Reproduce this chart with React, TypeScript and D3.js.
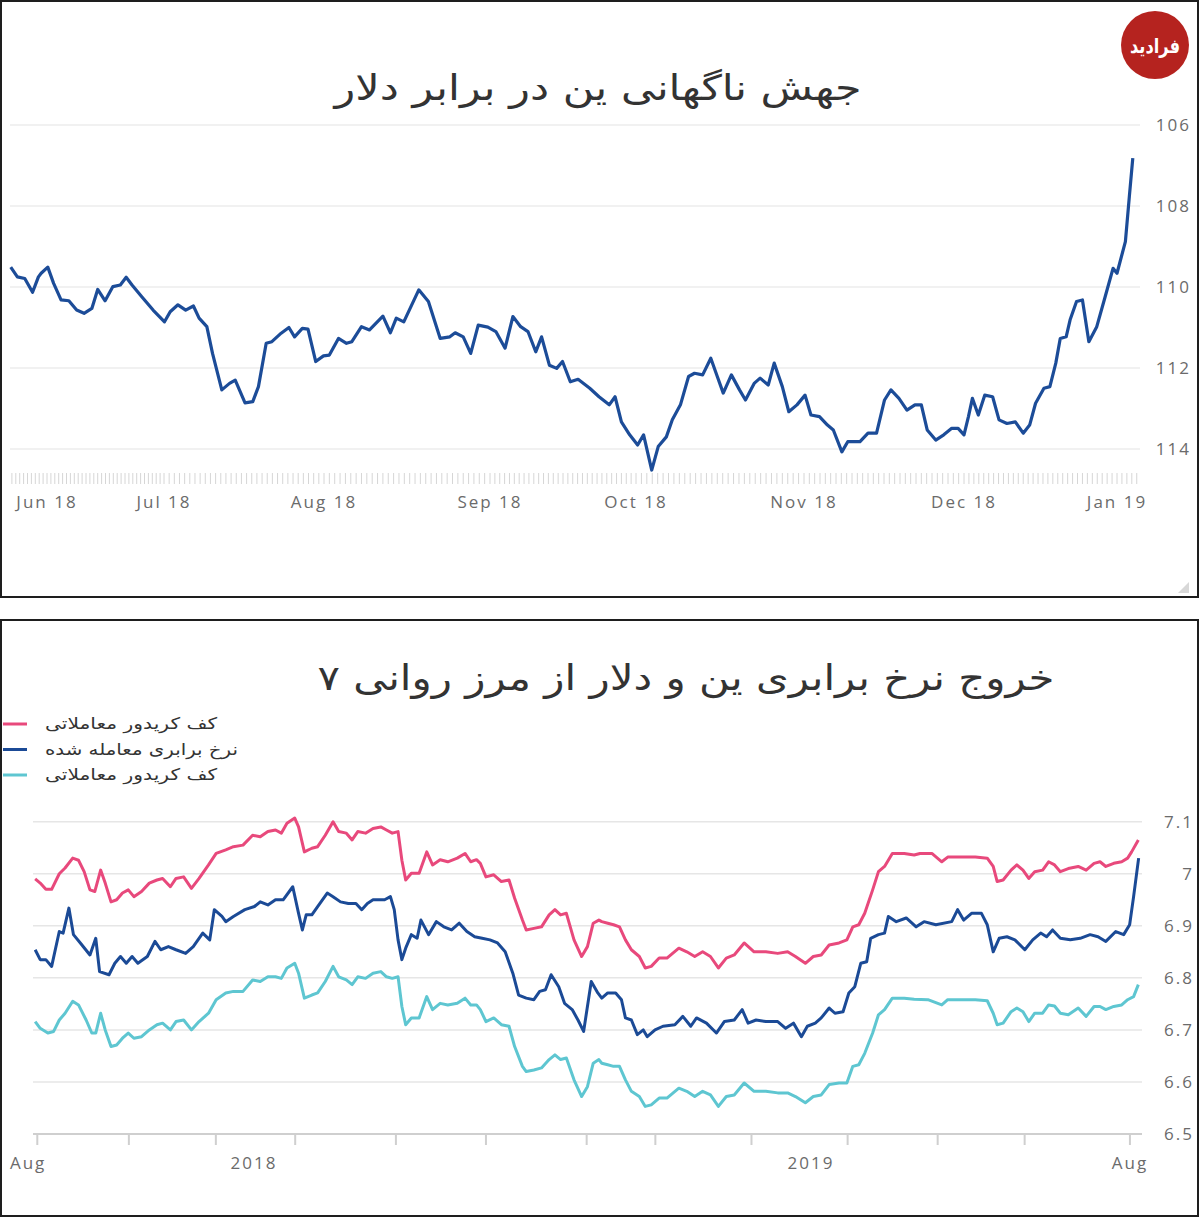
import React from "react";
import * as d3 from "d3";

const parseDay = d3.timeParse("%Y-%m-%d");
const dayMs = 86400000;
const at = (start: Date, d: number) => new Date(start.getTime() + d * dayMs);

// ---- top chart: USD/JPY, days counted from 1 Jun 2018 ----
const topStart = parseDay("2018-06-01") as Date;
const topTitle = "جهش ناگهانی ین در برابر دلار";
const topMonthDates = ["2018-06-01", "2018-07-01", "2018-08-01", "2018-09-01", "2018-10-01", "2018-11-01", "2018-12-01", "2019-01-01"];
const topMonthLabels = ["Jun 18", "Jul 18", "Aug 18", "Sep 18", "Oct 18", "Nov 18", "Dec 18", "Jan 19"];
const topYTicks = [106, 108, 110, 112, 114];

const yenRate: [number, number][] = [
  [-9.3, 109.51], [-7.6, 109.75], [-5.7, 109.79], [-3.7, 110.13], [-2.2, 109.75], [-1.5, 109.66], [0.2, 109.51],
  [1.7, 109.91], [3.6, 110.32], [5.6, 110.34], [7.6, 110.57], [9.5, 110.65], [11.5, 110.53], [13.0, 110.06],
  [14.9, 110.34], [16.9, 109.99], [18.8, 109.95], [20.3, 109.76], [21.8, 109.95], [24.3, 110.24], [27.2, 110.57],
  [30.1, 110.86], [31.2, 110.61], [32.7, 110.44], [34.2, 110.57], [35.7, 110.47], [36.8, 110.77], [38.3, 110.98],
  [39.4, 111.64], [41.2, 112.54], [42.7, 112.38], [43.8, 112.3], [45.7, 112.86], [47.2, 112.83], [48.3, 112.46],
  [49.8, 111.39], [50.9, 111.35], [52.7, 111.14], [54.2, 111.0], [55.3, 111.23], [56.8, 111.02], [57.9, 111.04],
  [59.4, 111.84], [60.9, 111.7], [62.0, 111.68], [63.7, 111.27], [65.2, 111.39], [66.2, 111.35], [68.0, 110.98],
  [69.5, 111.06], [72.0, 110.72], [73.4, 111.13], [74.5, 110.77], [75.9, 110.86], [78.7, 110.07], [80.5, 110.36],
  [82.7, 111.27], [84.5, 111.23], [85.5, 111.13], [87.0, 111.23], [88.4, 111.64], [89.8, 110.94], [91.6, 110.99],
  [93.2, 111.1], [95.1, 111.51], [96.7, 110.73], [98.3, 110.98], [99.8, 111.1], [101.4, 111.6], [102.6, 111.23],
  [104.2, 111.93], [105.7, 112.01], [106.9, 111.84], [108.5, 112.34], [110.1, 112.28], [112.5, 112.5], [114.4, 112.71],
  [116.5, 112.91], [117.7, 112.71], [119.0, 113.33], [120.7, 113.65], [122.3, 113.9], [123.4, 113.65], [124.9, 114.52],
  [126.1, 113.94], [127.6, 113.7], [128.7, 113.28], [130.2, 112.91], [131.7, 112.21], [132.8, 112.13], [134.3, 112.17],
  [135.8, 111.76], [137.0, 112.21], [138.1, 112.62], [139.6, 112.17], [141.1, 112.54], [142.2, 112.79], [143.8, 112.38],
  [144.9, 112.25], [146.4, 112.42], [147.5, 111.88], [149.0, 112.46], [150.2, 113.08], [151.7, 112.91], [153.2, 112.67],
  [154.3, 113.16], [155.9, 113.2], [157.4, 113.41], [158.5, 113.53], [160.1, 114.07], [161.2, 113.82], [163.5, 113.82],
  [165.0, 113.61], [166.6, 113.61], [168.1, 112.79], [169.3, 112.54], [170.8, 112.75], [172.3, 113.04], [173.8, 112.91],
  [175.0, 112.91], [176.1, 113.53], [177.7, 113.78], [179.2, 113.65], [180.7, 113.49], [181.9, 113.49], [183.0, 113.65],
  [183.9, 113.2], [184.7, 112.75], [185.9, 113.16], [187.2, 112.67], [188.8, 112.71], [190.1, 113.28], [191.7, 113.37],
  [193.4, 113.33], [195.0, 113.61], [196.3, 113.41], [197.5, 112.87], [199.2, 112.5], [200.4, 112.46], [201.6, 111.88],
  [202.5, 111.27], [203.7, 111.23], [204.5, 110.81], [205.8, 110.36], [207.0, 110.32], [208.3, 111.35], [209.9, 110.98],
  [211.6, 110.24], [213.2, 109.54], [214.0, 109.66], [215.7, 108.88], [216.5, 107.77], [217.2, 106.82],
];

// ---- bottom chart: USD/CNY, days counted from 1 Jan 2018 ----
const botStart = parseDay("2018-01-01") as Date;
const botTitle = "خروج نرخ برابری ین و دلار از مرز روانی ۷";
const botYTicks = [6.5, 6.6, 6.7, 6.8, 6.9, 7, 7.1];
const botTickDates = ["2017-08-12", "2017-10-11", "2017-12-07", "2018-01-28", "2018-04-04", "2018-06-02", "2018-08-07", "2018-09-21", "2018-11-23", "2019-01-25", "2019-03-25", "2019-05-21", "2019-07-29"];
const botLabelDates = ["2017-08-06", "2018-01-01", "2019-01-01", "2019-07-29"];
const botLabelText = ["Aug", "2018", "2019", "Aug"];
const legendLabels = ["کف کریدور معاملاتی", "نرخ برابری معامله شده", "کف کریدور معاملاتی"];
const legendColors = ["#e8497c", "#1b4a96", "#5ec6d1"];

const upperBand: [number, number][] = [
  [-143.4, 6.99], [-140.1, 6.982], [-136.4, 6.97], [-132.6, 6.97], [-127.6, 7.0], [-123.8, 7.011], [-118.8, 7.03],
  [-115.0, 7.026], [-111.3, 7.004], [-107.5, 6.969], [-104.3, 6.966], [-100.5, 7.007], [-97.5, 6.982], [-93.7, 6.946],
  [-90.0, 6.95], [-86.2, 6.963], [-82.4, 6.969], [-78.7, 6.956], [-73.7, 6.966], [-68.6, 6.982], [-63.6, 6.988],
  [-59.9, 6.991], [-54.8, 6.975], [-51.1, 6.991], [-46.1, 6.994], [-41.0, 6.972], [-36.0, 6.991], [-29.8, 7.017],
  [-24.8, 7.039], [-18.5, 7.046], [-13.5, 7.052], [-7.2, 7.055], [-0.9, 7.074], [4.1, 7.071], [9.1, 7.081],
  [14.1, 7.084], [17.9, 7.078], [21.6, 7.097], [26.7, 7.107], [29.2, 7.09], [33.0, 7.042], [37.9, 7.049],
  [41.7, 7.052], [46.7, 7.074], [51.8, 7.1], [55.5, 7.081], [60.5, 7.078], [64.3, 7.065], [68.0, 7.081],
  [73.1, 7.078], [78.0, 7.087], [83.1, 7.09], [86.8, 7.084], [90.6, 7.078], [94.4, 7.081], [96.9, 7.026],
  [99.4, 6.988], [103.1, 7.001], [108.2, 7.001], [113.2, 7.042], [117.0, 7.017], [122.0, 7.027], [127.0, 7.023],
  [133.2, 7.03], [138.3, 7.039], [142.0, 7.023], [145.8, 7.027], [148.3, 7.02], [152.0, 6.994], [157.1, 6.998],
  [162.1, 6.985], [167.1, 6.988], [170.8, 6.953], [175.9, 6.911], [178.4, 6.892], [183.4, 6.895], [188.4, 6.898],
  [193.4, 6.921], [197.2, 6.931], [200.9, 6.921], [204.7, 6.924], [209.7, 6.873], [214.7, 6.841], [218.5, 6.86],
  [222.3, 6.905], [226.0, 6.911], [227.9, 6.908], [231.8, 6.905], [235.6, 6.902], [239.5, 6.898], [243.4, 6.873],
  [247.3, 6.854], [252.5, 6.841], [256.4, 6.819], [260.3, 6.822], [265.5, 6.838], [270.6, 6.838], [278.4, 6.857],
  [283.6, 6.85], [288.8, 6.841], [294.0, 6.85], [299.1, 6.841], [304.3, 6.819], [309.5, 6.838], [314.7, 6.844],
  [321.2, 6.867], [327.7, 6.85], [335.4, 6.85], [343.2, 6.847], [349.7, 6.85], [354.8, 6.841], [361.3, 6.828],
  [366.5, 6.841], [371.7, 6.844], [376.9, 6.863], [383.4, 6.867], [388.5, 6.873], [392.4, 6.898], [396.3, 6.902],
  [400.2, 6.924], [405.4, 6.969], [409.2, 7.004], [413.2, 7.014], [418.3, 7.039], [426.1, 7.039], [432.6, 7.036],
  [436.4, 7.039], [444.2, 7.039], [450.7, 7.023], [454.6, 7.032], [462.4, 7.032], [472.7, 7.032], [480.5, 7.03],
  [484.4, 7.014], [487.0, 6.985], [490.9, 6.988], [496.1, 7.007], [499.9, 7.017], [503.9, 7.007], [507.7, 6.991],
  [511.6, 7.004], [516.8, 7.007], [520.7, 7.023], [524.6, 7.017], [528.4, 7.004], [533.6, 7.01], [540.1, 7.014],
  [545.3, 7.007], [550.5, 7.02], [554.4, 7.023], [558.2, 7.014], [563.4, 7.02], [568.6, 7.023], [572.5, 7.03],
  [575.1, 7.042], [579.5, 7.065],
];

const tradedRate: [number, number][] = [
  [-143.4, 6.854], [-140.1, 6.835], [-136.4, 6.835], [-132.6, 6.822], [-127.6, 6.889], [-125.1, 6.886], [-121.3, 6.934],
  [-118.3, 6.883], [-113.8, 6.867], [-107.5, 6.844], [-103.7, 6.876], [-101.2, 6.812], [-95.0, 6.806], [-91.2, 6.828],
  [-87.5, 6.841], [-83.7, 6.828], [-79.9, 6.841], [-76.1, 6.828], [-69.9, 6.841], [-64.9, 6.87], [-61.1, 6.854],
  [-56.1, 6.86], [-51.1, 6.854], [-44.8, 6.847], [-39.8, 6.86], [-33.6, 6.886], [-29.0, 6.873], [-26.0, 6.931],
  [-21.0, 6.918], [-18.5, 6.908], [-13.5, 6.918], [-6.0, 6.931], [0.3, 6.937], [4.1, 6.946], [9.1, 6.94],
  [14.1, 6.95], [19.1, 6.95], [25.4, 6.975], [29.2, 6.924], [31.7, 6.892], [34.2, 6.921], [37.9, 6.921],
  [41.7, 6.937], [48.0, 6.963], [51.8, 6.956], [56.7, 6.946], [61.8, 6.943], [66.8, 6.943], [70.6, 6.931],
  [74.3, 6.943], [78.0, 6.95], [81.8, 6.95], [85.6, 6.95], [89.4, 6.956], [91.9, 6.931], [94.4, 6.873],
  [96.9, 6.835], [99.4, 6.857], [103.1, 6.883], [106.9, 6.876], [109.4, 6.911], [114.4, 6.883], [119.5, 6.908],
  [124.4, 6.898], [129.5, 6.892], [134.5, 6.905], [139.5, 6.889], [144.6, 6.879], [149.5, 6.876], [154.6, 6.873],
  [159.6, 6.867], [164.6, 6.85], [169.6, 6.809], [173.4, 6.767], [178.4, 6.761], [183.4, 6.758], [187.2, 6.774],
  [191.0, 6.777], [194.7, 6.806], [199.7, 6.783], [203.5, 6.751], [208.5, 6.739], [212.3, 6.719], [216.0, 6.697],
  [221.0, 6.793], [225.3, 6.771], [227.9, 6.761], [231.8, 6.771], [237.0, 6.771], [240.8, 6.758], [243.4, 6.723],
  [247.3, 6.719], [251.2, 6.691], [255.1, 6.7], [257.7, 6.687], [262.8, 6.7], [268.0, 6.707], [275.8, 6.71],
  [281.0, 6.726], [286.2, 6.707], [290.0, 6.723], [296.5, 6.713], [303.0, 6.694], [308.2, 6.716], [314.7, 6.719],
  [319.9, 6.739], [323.8, 6.713], [329.0, 6.719], [335.4, 6.716], [343.2, 6.716], [348.4, 6.703], [353.5, 6.713],
  [358.7, 6.687], [362.6, 6.707], [367.8, 6.713], [371.7, 6.723], [376.9, 6.742], [380.7, 6.732], [386.0, 6.735],
  [389.8, 6.771], [393.7, 6.783], [397.6, 6.828], [401.5, 6.831], [404.1, 6.876], [409.2, 6.883], [413.2, 6.886],
  [415.7, 6.918], [420.9, 6.908], [427.4, 6.915], [433.9, 6.898], [439.1, 6.908], [446.8, 6.902], [457.2, 6.908],
  [461.1, 6.931], [465.0, 6.911], [470.2, 6.924], [476.7, 6.924], [480.5, 6.902], [484.4, 6.85], [488.3, 6.876],
  [493.4, 6.879], [498.6, 6.873], [505.1, 6.854], [510.3, 6.873], [515.5, 6.886], [519.4, 6.879], [523.3, 6.892],
  [528.4, 6.876], [534.9, 6.873], [541.4, 6.876], [547.9, 6.883], [553.1, 6.879], [558.2, 6.87], [564.7, 6.889],
  [569.9, 6.883], [573.8, 6.902], [576.4, 6.956], [579.7, 7.03],
];

const lowerBand: [number, number][] = [
  [-143.4, 6.716], [-140.1, 6.703], [-135.1, 6.694], [-131.3, 6.697], [-127.6, 6.719], [-123.8, 6.732], [-118.8, 6.755],
  [-115.0, 6.748], [-110.0, 6.719], [-106.3, 6.694], [-103.7, 6.694], [-100.5, 6.732], [-97.5, 6.7], [-93.7, 6.668],
  [-90.0, 6.671], [-86.2, 6.684], [-82.4, 6.694], [-78.7, 6.684], [-73.7, 6.687], [-68.6, 6.7], [-63.6, 6.71],
  [-59.9, 6.713], [-54.8, 6.7], [-51.1, 6.716], [-46.1, 6.719], [-41.0, 6.7], [-36.0, 6.716], [-29.8, 6.732],
  [-24.8, 6.758], [-18.5, 6.771], [-13.5, 6.774], [-7.2, 6.774], [-0.9, 6.796], [4.1, 6.793], [9.1, 6.802],
  [14.1, 6.802], [17.9, 6.799], [21.6, 6.819], [26.7, 6.828], [29.2, 6.809], [33.0, 6.761], [37.9, 6.767],
  [41.7, 6.771], [46.7, 6.793], [51.8, 6.822], [55.5, 6.802], [60.5, 6.796], [64.3, 6.787], [68.0, 6.802],
  [73.1, 6.799], [78.0, 6.809], [83.1, 6.812], [86.8, 6.802], [90.6, 6.799], [94.4, 6.802], [96.9, 6.745],
  [99.4, 6.71], [103.1, 6.723], [108.2, 6.723], [113.2, 6.764], [117.0, 6.739], [122.0, 6.751], [127.0, 6.748],
  [133.2, 6.751], [138.3, 6.761], [142.0, 6.748], [145.8, 6.748], [148.3, 6.739], [152.0, 6.716], [157.1, 6.723],
  [162.1, 6.71], [167.1, 6.707], [170.8, 6.668], [175.9, 6.63], [178.4, 6.62], [183.4, 6.623], [188.4, 6.627],
  [193.4, 6.643], [197.2, 6.652], [200.9, 6.643], [204.7, 6.646], [209.7, 6.604], [214.7, 6.572], [218.5, 6.591],
  [222.3, 6.636], [226.0, 6.643], [227.9, 6.636], [231.8, 6.633], [235.6, 6.63], [239.5, 6.63], [243.4, 6.604],
  [247.3, 6.582], [252.5, 6.572], [256.4, 6.553], [260.3, 6.556], [265.5, 6.569], [270.6, 6.569], [278.4, 6.588],
  [283.6, 6.582], [288.8, 6.572], [294.0, 6.582], [299.1, 6.575], [304.3, 6.553], [309.5, 6.572], [314.7, 6.575],
  [321.2, 6.598], [327.7, 6.582], [335.4, 6.582], [343.2, 6.579], [349.7, 6.579], [354.8, 6.572], [361.3, 6.56],
  [366.5, 6.572], [371.7, 6.575], [376.9, 6.595], [383.4, 6.598], [388.5, 6.598], [392.4, 6.63], [396.3, 6.633],
  [400.2, 6.655], [405.4, 6.694], [409.2, 6.729], [413.2, 6.739], [418.3, 6.761], [426.1, 6.761], [432.6, 6.759],
  [441.6, 6.758], [450.7, 6.748], [454.6, 6.758], [472.7, 6.758], [480.5, 6.756], [484.4, 6.732], [487.0, 6.71],
  [490.9, 6.713], [496.1, 6.735], [499.9, 6.742], [503.9, 6.735], [507.7, 6.716], [511.6, 6.732], [516.8, 6.732],
  [520.7, 6.748], [524.6, 6.746], [528.4, 6.732], [533.6, 6.729], [540.1, 6.742], [545.3, 6.726], [550.5, 6.745],
  [554.4, 6.745], [558.2, 6.739], [563.4, 6.745], [568.6, 6.748], [572.5, 6.758], [576.4, 6.764], [579.5, 6.787],
];

const faFont = "'DejaVu Sans', 'Noto Sans', sans-serif";
const numFont = "'Open Sans', 'DejaVu Sans', sans-serif";

export default function App() {
  // top scales
  const xTop = d3
    .scaleTime()
    .domain(topMonthDates.map((s) => parseDay(s) as Date))
    .range([47, 164, 324, 490, 636, 804, 964, 1117]);
  const yTop = d3.scaleLinear().domain([106, 114]).range([125, 449]);
  const topLine = d3
    .line<[number, number]>()
    .x((p) => xTop(at(topStart, p[0])))
    .y((p) => yTop(p[1]));
  const dailyTicks = d3.timeDay.range(at(topStart, -9), at(topStart, 219));

  // bottom scales
  const xBot = d3.scaleTime().domain([botStart, parseDay("2019-01-01") as Date]).range([254, 811]);
  const yBot = d3.scaleLinear().domain([6.5, 7.1]).range([1134, 821.7]);
  const botLine = d3
    .line<[number, number]>()
    .x((p) => xBot(at(botStart, p[0])))
    .y((p) => yBot(p[1]));
  const botSeries = [upperBand, tradedRate, lowerBand];
  const legendWidths = [172, 193, 172];

  return (
    <svg
      width={1200}
      height={1218}
      style={{ position: "absolute", left: 0, top: 0, background: "#fff" }}
    >
      {/* panels */}
      <rect x={1} y={1} width={1197} height={596} fill="#fff" stroke="#1e1e1e" strokeWidth={2} />
      <rect x={1} y={620} width={1197} height={596} fill="#fff" stroke="#1e1e1e" strokeWidth={2} />
      <path d="M1189,582 L1189,593 L1178,593 Z" fill="#d8d8d8" />

      {/* logo */}
      <circle cx={1155} cy={45} r={34} fill="#b5231f" />
      <text
        x={1155}
        y={53}
        textAnchor="middle"
        fontFamily={faFont}
        fontWeight="bold"
        fontSize={20}
        fill="#fff"
        textLength={50}
        lengthAdjust="spacingAndGlyphs"
      >
        فرادید
      </text>

      {/* ===== top chart ===== */}
      <text
        x={598}
        y={100}
        textAnchor="middle"
        fontFamily={faFont}
        fontSize={35}
        fill="#333"
        textLength={527}
        lengthAdjust="spacingAndGlyphs"
      >
        {topTitle}
      </text>
      {topYTicks.map((t) => (
        <g key={t}>
          <line x1={10} x2={1140} y1={yTop(t)} y2={yTop(t)} stroke="#ececec" strokeWidth={1.5} />
          <text
            x={1191}
            y={yTop(t) + 6}
            textAnchor="end"
            fontFamily={numFont}
            fontSize={17}
            letterSpacing={2}
            fill="#6b6b6b"
          >
            {t}
          </text>
        </g>
      ))}
      {dailyTicks.map((d, i) => (
        <line key={i} x1={xTop(d)} x2={xTop(d)} y1={473} y2={484} stroke="#d6d6d6" strokeWidth={1} />
      ))}
      {topMonthDates.map((s, i) => (
        <text
          key={s}
          x={xTop(parseDay(s) as Date)}
          y={508}
          textAnchor="middle"
          fontFamily={numFont}
          fontSize={17}
          letterSpacing={2}
          fill="#6b6b6b"
        >
          {topMonthLabels[i]}
        </text>
      ))}
      <path d={topLine(yenRate) || ""} fill="none" stroke="#1c4c98" strokeWidth={3.2} strokeLinejoin="round" />

      {/* ===== bottom chart ===== */}
      <text
        x={686}
        y={690}
        textAnchor="middle"
        fontFamily={faFont}
        fontSize={35}
        fill="#333"
        textLength={737}
        lengthAdjust="spacingAndGlyphs"
      >
        {botTitle}
      </text>
      {legendLabels.map((l, i) => (
        <g key={i}>
          <line x1={3} x2={27} y1={724 + i * 25.5} y2={724 + i * 25.5} stroke={legendColors[i]} strokeWidth={3} />
          <text
            x={45}
            y={729 + i * 25.5}
            fontFamily={faFont}
            fontSize={16}
            fill="#333"
            textLength={legendWidths[i]}
            lengthAdjust="spacingAndGlyphs"
          >
            {l}
          </text>
        </g>
      ))}
      {botYTicks.map((t) => (
        <g key={t}>
          {t > 6.5 && (
            <line x1={33} x2={1142} y1={yBot(t)} y2={yBot(t)} stroke="#e6e6e6" strokeWidth={1.5} />
          )}
          <text
            x={1194}
            y={yBot(t) + 6}
            textAnchor="end"
            fontFamily={numFont}
            fontSize={17}
            letterSpacing={2}
            fill="#6b6b6b"
          >
            {t}
          </text>
        </g>
      ))}
      <line x1={33} x2={1142} y1={yBot(6.5)} y2={yBot(6.5)} stroke="#cfcfcf" strokeWidth={2} />
      {botTickDates.map((s) => {
        const x = xBot(parseDay(s) as Date);
        return <line key={s} x1={x} x2={x} y1={yBot(6.5)} y2={yBot(6.5) + 11} stroke="#cfcfcf" strokeWidth={2} />;
      })}
      {botLabelDates.map((s, i) => (
        <text
          key={s}
          x={xBot(parseDay(s) as Date)}
          y={1169}
          textAnchor="middle"
          fontFamily={numFont}
          fontSize={17}
          letterSpacing={2}
          fill="#6b6b6b"
        >
          {botLabelText[i]}
        </text>
      ))}
      {botSeries.map((s, i) => (
        <path
          key={i}
          d={botLine(s) || ""}
          fill="none"
          stroke={legendColors[i]}
          strokeWidth={3}
          strokeLinejoin="round"
        />
      ))}
    </svg>
  );
}
